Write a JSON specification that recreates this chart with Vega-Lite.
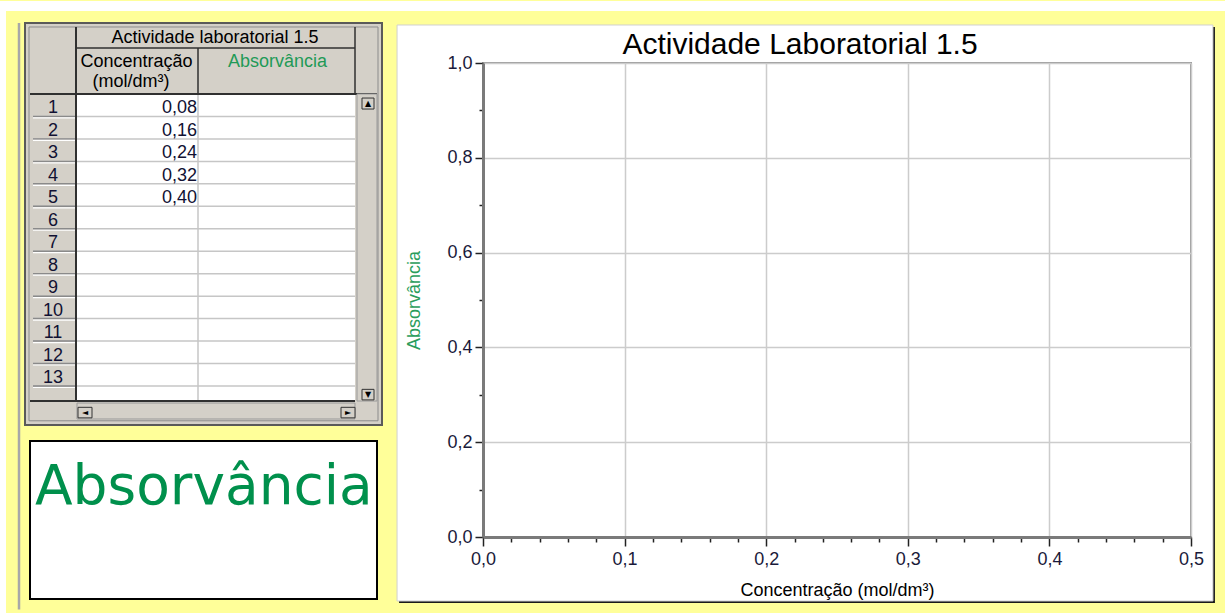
{
  "$schema": "https://vega.github.io/schema/vega-lite/v6.json",
  "background": "#ffff99",
  "padding": {"left": 0, "top": 0, "right": 0, "bottom": 0},
  "config": {
    "view": {"stroke": null},
    "font": "Liberation Sans",
    "locale": {"number": {"decimal": ",", "thousands": ".", "grouping": [3], "currency": ["", " €"]}}
  },
  "data": {"values": [
    {"linha": 1, "concentracao": 0.08, "absorvancia": null},
    {"linha": 2, "concentracao": 0.16, "absorvancia": null},
    {"linha": 3, "concentracao": 0.24, "absorvancia": null},
    {"linha": 4, "concentracao": 0.32, "absorvancia": null},
    {"linha": 5, "concentracao": 0.40, "absorvancia": null},
    {"linha": 6, "concentracao": null, "absorvancia": null},
    {"linha": 7, "concentracao": null, "absorvancia": null},
    {"linha": 8, "concentracao": null, "absorvancia": null},
    {"linha": 9, "concentracao": null, "absorvancia": null},
    {"linha": 10, "concentracao": null, "absorvancia": null},
    {"linha": 11, "concentracao": null, "absorvancia": null},
    {"linha": 12, "concentracao": null, "absorvancia": null},
    {"linha": 13, "concentracao": null, "absorvancia": null}
  ]},
  "spacing": 0,
  "hconcat": [
    {
      "width": 357,
      "height": 474,
      "view": {"stroke": null},
      "layer": [
        {"data": {"values": [{}]}, "mark": {"type": "rect", "fill": "#ffffff"},
         "encoding": {
           "x": {"datum": -25, "type": "quantitative", "scale": {"domain": [0, 357], "nice": false, "zero": false}, "axis": null},
           "x2": {"datum": 358},
           "y": {"datum": -4.141, "type": "quantitative", "scale": {"domain": [-1.38, 19.724], "reverse": true, "nice": false, "zero": false}, "axis": null},
           "y2": {"datum": -3.696}}},
        {"data": {"values": [{}]}, "mark": {"type": "rect", "fill": "#ffffff"},
         "encoding": {
           "x": {"datum": -25, "type": "quantitative", "axis": null}, "x2": {"datum": -19},
           "y": {"datum": -4.141, "type": "quantitative", "axis": null}, "y2": {"datum": 23.15}}},
        {"data": {"values": [{}]}, "mark": {"type": "rule", "color": "#a8a8a8", "strokeWidth": 2.5},
         "encoding": {
           "x": {"datum": -6, "type": "quantitative", "axis": null},
           "y": {"datum": -3.16, "type": "quantitative", "axis": null}, "y2": {"datum": 22.95}}},
        {"data": {"values": [{}]}, "mark": {"type": "rect", "fill": "#d4d0c8", "stroke": "#5a5a5a", "strokeWidth": 2},
         "encoding": {
           "x": {"datum": 0, "type": "quantitative", "axis": null},
           "x2": {"datum": 357},
           "y": {"datum": -3.161, "type": "quantitative", "axis": null},
           "y2": {"datum": 14.737}}},
        {"data": {"values": [{}]}, "mark": {"type": "rect", "fillOpacity": 0, "stroke": "#8c8c8c", "strokeWidth": 1},
         "encoding": {
           "x": {"datum": 4, "type": "quantitative", "axis": null}, "x2": {"datum": 353},
           "y": {"datum": -2.983, "type": "quantitative", "axis": null}, "y2": {"datum": 14.55}}},
        {"data": {"values": [{}]}, "mark": {"type": "rect", "fill": "#ffffff"},
         "encoding": {
           "x": {"datum": 52, "type": "quantitative", "axis": null}, "x2": {"datum": 330},
           "y": {"datum": 0, "type": "quantitative", "axis": null}, "y2": {"datum": 13.67}}},
        {"mark": {"type": "rule", "color": "#c6c6c6", "strokeWidth": 1.5},
         "encoding": {
           "x": {"datum": 8, "type": "quantitative", "axis": null}, "x2": {"datum": 330},
           "y": {"field": "linha", "type": "quantitative", "axis": null}}},
        {"mark": {"type": "rule", "color": "#8a8a8a", "strokeWidth": 1.5},
         "encoding": {
           "x": {"datum": 8, "type": "quantitative", "axis": null}, "x2": {"datum": 50},
           "y": {"field": "linha", "type": "quantitative", "axis": null}}},
        {"mark": {"type": "rule", "color": "#ffffff", "strokeWidth": 1.2, "yOffset": 1.5},
         "encoding": {
           "x": {"datum": 8, "type": "quantitative", "axis": null}, "x2": {"datum": 50},
           "y": {"field": "linha", "type": "quantitative", "axis": null}}},
        {"data": {"values": [{}]}, "mark": {"type": "rule", "color": "#303030", "strokeWidth": 2},
         "encoding": {
           "x": {"datum": 51, "type": "quantitative", "axis": null},
           "y": {"datum": -2.983, "type": "quantitative", "axis": null}, "y2": {"datum": 13.67}}},
        {"data": {"values": [{}]}, "mark": {"type": "rule", "color": "#303030", "strokeWidth": 1.5},
         "encoding": {
           "x": {"datum": 173, "type": "quantitative", "axis": null},
           "y": {"datum": -2.048, "type": "quantitative", "axis": null}, "y2": {"datum": 0}}},
        {"data": {"values": [{}]}, "mark": {"type": "rule", "color": "#c6c6c6", "strokeWidth": 1.5},
         "encoding": {
           "x": {"datum": 173, "type": "quantitative", "axis": null},
           "y": {"datum": 0, "type": "quantitative", "axis": null}, "y2": {"datum": 13.67}}},
        {"data": {"values": [{}]}, "mark": {"type": "rule", "color": "#303030", "strokeWidth": 1.5},
         "encoding": {
           "x": {"datum": 330, "type": "quantitative", "axis": null},
           "y": {"datum": -2.983, "type": "quantitative", "axis": null}, "y2": {"datum": 0}}},
        {"data": {"values": [{}]}, "mark": {"type": "rule", "color": "#303030", "strokeWidth": 1.5},
         "encoding": {
           "x": {"datum": 51, "type": "quantitative", "axis": null}, "x2": {"datum": 330},
           "y": {"datum": -2.048, "type": "quantitative", "axis": null}}},
        {"data": {"values": [{}]}, "mark": {"type": "rule", "color": "#303030", "strokeWidth": 2},
         "encoding": {
           "x": {"datum": 5, "type": "quantitative", "axis": null}, "x2": {"datum": 352},
           "y": {"datum": 0, "type": "quantitative", "axis": null}}},
        {"data": {"values": [{}]}, "mark": {"type": "rule", "color": "#303030", "strokeWidth": 2},
         "encoding": {
           "x": {"datum": 5, "type": "quantitative", "axis": null}, "x2": {"datum": 330},
           "y": {"datum": 13.67, "type": "quantitative", "axis": null}}},
        {"data": {"values": [{}]}, "mark": {"type": "rect", "fill": "#d4d0c8", "stroke": "#9a9a9a", "strokeWidth": 1},
         "encoding": {
           "x": {"datum": 332, "type": "quantitative", "axis": null}, "x2": {"datum": 352},
           "y": {"datum": 0, "type": "quantitative", "axis": null}, "y2": {"datum": 13.67}}},
        {"data": {"values": [{}]}, "mark": {"type": "rect", "fill": "#d4d0c8", "stroke": "#9a9a9a", "strokeWidth": 1},
         "encoding": {
           "x": {"datum": 52, "type": "quantitative", "axis": null}, "x2": {"datum": 330},
           "y": {"datum": 13.76, "type": "quantitative", "axis": null}, "y2": {"datum": 14.47}}},
        {"data": {"values": [{}]}, "mark": {"type": "rect", "fill": "#d4d0c8", "stroke": "#333333", "strokeWidth": 1},
         "encoding": {
           "x": {"datum": 337, "type": "quantitative", "axis": null}, "x2": {"datum": 349},
           "y": {"datum": 0.18, "type": "quantitative", "axis": null}, "y2": {"datum": 0.67}}},
        {"data": {"values": [{}]}, "mark": {"type": "rect", "fill": "#d4d0c8", "stroke": "#333333", "strokeWidth": 1},
         "encoding": {
           "x": {"datum": 337, "type": "quantitative", "axis": null}, "x2": {"datum": 349},
           "y": {"datum": 13.15, "type": "quantitative", "axis": null}, "y2": {"datum": 13.62}}},
        {"data": {"values": [{}]}, "mark": {"type": "rect", "fill": "#d4d0c8", "stroke": "#333333", "strokeWidth": 1},
         "encoding": {
           "x": {"datum": 53, "type": "quantitative", "axis": null}, "x2": {"datum": 67},
           "y": {"datum": 13.95, "type": "quantitative", "axis": null}, "y2": {"datum": 14.42}}},
        {"data": {"values": [{}]}, "mark": {"type": "rect", "fill": "#d4d0c8", "stroke": "#333333", "strokeWidth": 1},
         "encoding": {
           "x": {"datum": 316, "type": "quantitative", "axis": null}, "x2": {"datum": 330},
           "y": {"datum": 13.95, "type": "quantitative", "axis": null}, "y2": {"datum": 14.42}}},
        {"data": {"values": [{}]}, "mark": {"type": "text", "text": "▲", "font": "DejaVu Sans", "fontSize": 8, "align": "center", "baseline": "middle", "color": "#000"},
         "encoding": {"x": {"datum": 343, "type": "quantitative", "axis": null}, "y": {"datum": 0.425, "type": "quantitative", "axis": null}}},
        {"data": {"values": [{}]}, "mark": {"type": "text", "text": "▼", "font": "DejaVu Sans", "fontSize": 8, "align": "center", "baseline": "middle", "color": "#000"},
         "encoding": {"x": {"datum": 343, "type": "quantitative", "axis": null}, "y": {"datum": 13.385, "type": "quantitative", "axis": null}}},
        {"data": {"values": [{}]}, "mark": {"type": "text", "text": "◄", "font": "DejaVu Sans", "fontSize": 8, "align": "center", "baseline": "middle", "color": "#000"},
         "encoding": {"x": {"datum": 60, "type": "quantitative", "axis": null}, "y": {"datum": 14.185, "type": "quantitative", "axis": null}}},
        {"data": {"values": [{}]}, "mark": {"type": "text", "text": "►", "font": "DejaVu Sans", "fontSize": 8, "align": "center", "baseline": "middle", "color": "#000"},
         "encoding": {"x": {"datum": 323, "type": "quantitative", "axis": null}, "y": {"datum": 14.185, "type": "quantitative", "axis": null}}},
        {"data": {"values": [{}]}, "mark": {"type": "text", "text": "Actividade laboratorial 1.5", "font": "Liberation Sans", "fontSize": 18, "align": "center", "baseline": "middle", "color": "#000"},
         "encoding": {"x": {"datum": 190, "type": "quantitative", "axis": null}, "y": {"datum": -2.515, "type": "quantitative", "axis": null}}},
        {"data": {"values": [{}]}, "mark": {"type": "text", "text": "Concentração", "font": "Liberation Sans", "fontSize": 18, "align": "center", "baseline": "middle", "color": "#000"},
         "encoding": {"x": {"datum": 111.5, "type": "quantitative", "axis": null}, "y": {"datum": -1.44, "type": "quantitative", "axis": null}}},
        {"data": {"values": [{}]}, "mark": {"type": "text", "text": "(mol/dm³)", "font": "Liberation Sans", "fontSize": 18, "align": "center", "baseline": "middle", "color": "#000"},
         "encoding": {"x": {"datum": 106, "type": "quantitative", "axis": null}, "y": {"datum": -0.55, "type": "quantitative", "axis": null}}},
        {"data": {"values": [{}]}, "mark": {"type": "text", "text": "Absorvância", "font": "Liberation Sans", "fontSize": 18, "align": "center", "baseline": "middle", "color": "#1f9a57"},
         "encoding": {"x": {"datum": 252.5, "type": "quantitative", "axis": null}, "y": {"datum": -1.44, "type": "quantitative", "axis": null}}},
        {"mark": {"type": "text", "font": "Liberation Sans", "fontSize": 18, "align": "center", "baseline": "alphabetic", "dy": -3, "color": "#111133"},
         "encoding": {
           "text": {"field": "linha", "type": "quantitative"},
           "x": {"datum": 28, "type": "quantitative", "axis": null},
           "y": {"field": "linha", "type": "quantitative", "axis": null}}},
        {"transform": [{"filter": "isValid(datum.concentracao)"}],
         "mark": {"type": "text", "font": "Liberation Sans", "fontSize": 18, "align": "right", "baseline": "alphabetic", "dy": -3, "dx": -1, "color": "#111133"},
         "encoding": {
           "text": {"field": "concentracao", "type": "quantitative", "format": ".2f"},
           "x": {"datum": 173, "type": "quantitative", "axis": null},
           "y": {"field": "linha", "type": "quantitative", "axis": null}}},
        {"data": {"values": [{}]}, "mark": {"type": "rect", "fill": "#ffffff", "stroke": "#000000", "strokeWidth": 2},
         "encoding": {
           "x": {"datum": 5, "type": "quantitative", "axis": null}, "x2": {"datum": 352},
           "y": {"datum": 15.45, "type": "quantitative", "axis": null}, "y2": {"datum": 22.48}}},
        {"data": {"values": [{}]}, "mark": {"type": "text", "text": "Absorvância", "font": "DejaVu Sans", "fontSize": 55, "align": "left", "baseline": "alphabetic", "color": "#00904c"},
         "encoding": {"x": {"datum": 10, "type": "quantitative", "axis": null}, "y": {"datum": 18.254, "type": "quantitative", "axis": null}}}
      ]
    },
    {
      "width": 708,
      "height": 474,
      "view": {"stroke": null},
      "title": {"text": "Actividade Laboratorial 1.5", "font": "Liberation Sans", "fontSize": 30, "fontWeight": "normal", "color": "#000000", "anchor": "middle", "frame": "group", "dx": -37, "dy": 51.5, "baseline": "alphabetic", "offset": -31.5},
      "resolve": {"axis": {"x": "independent", "y": "independent"}},
      "layer": [
        {"data": {"values": [{}]},
         "mark": {"type": "rect", "fill": "#ffffff"},
         "encoding": {
           "x": {"datum": -0.07062, "type": "quantitative", "scale": {"domain": [0, 0.5], "nice": false, "zero": false}, "axis": null},
           "x2": {"datum": 0.52401},
           "y": {"datum": 1.1308, "type": "quantitative", "scale": {"domain": [0, 1], "nice": false, "zero": false}, "axis": null},
           "y2": {"datum": 1.1097}}},
        {"data": {"values": [{}]},
         "mark": {"type": "rect", "fill": "#1a1a1a", "xOffset": 2, "x2Offset": 2, "yOffset": 2, "y2Offset": 2},
         "encoding": {
           "x": {"datum": -0.0607, "type": "quantitative", "axis": null},
           "x2": {"datum": 0.5155},
           "y": {"datum": 1.0802, "type": "quantitative", "axis": null},
           "y2": {"datum": -0.135}}},
        {"data": {"values": [{}]},
         "mark": {"type": "rect", "fill": "#ffffff", "stroke": "#d0d0d0", "strokeWidth": 1},
         "encoding": {
           "x": {"datum": -0.0607, "type": "quantitative", "axis": null},
           "x2": {"datum": 0.5155},
           "y": {"datum": 1.0802, "type": "quantitative", "axis": null},
           "y2": {"datum": -0.135}}},
        {"data": {"values": [{}]},
         "mark": {"type": "rect", "fillOpacity": 0, "stroke": "#9a9a9a", "strokeWidth": 2},
         "encoding": {
           "x": {"datum": 0, "type": "quantitative",
                 "axis": {"orient": "bottom", "values": [0.02,0.04,0.06,0.08,0.12,0.14,0.16,0.18,0.22,0.24,0.26,0.28,0.32,0.34,0.36,0.38,0.42,0.44,0.46,0.48],
                          "labels": false, "domain": false, "grid": false, "ticks": true, "tickSize": 5, "tickColor": "#222222", "tickWidth": 1.5, "title": null, "zindex": 1}},
           "x2": {"datum": 0.5},
           "y": {"datum": 0, "type": "quantitative",
                 "axis": {"orient": "left", "values": [0.1,0.3,0.5,0.7,0.9],
                          "labels": false, "domain": false, "grid": false, "ticks": true, "tickSize": 4, "tickColor": "#222222", "tickWidth": 1.5, "title": null, "zindex": 1}},
           "y2": {"datum": 1}}},
        {"mark": {"type": "point", "filled": true, "color": "#1f9a57", "size": 60},
         "encoding": {
           "x": {"field": "concentracao", "type": "quantitative",
                 "scale": {"domain": [0, 0.5], "nice": false, "zero": false},
                 "axis": {
                   "orient": "bottom",
                   "values": [0, 0.1, 0.2, 0.3, 0.4, 0.5],
                   "format": ".1f",
                   "tickSize": 9,
                   "grid": true, "gridColor": "#cccccc", "gridWidth": 1.5,
                   "domainColor": "#7a7a7a", "domainWidth": 3,
                   "tickColor": "#222222", "tickWidth": 1.5,
                   "labelFont": "Liberation Sans", "labelFontSize": 18, "labelColor": "#1a1a3a", "labelPadding": 4,
                   "labelOverlap": false, "labelFlush": false,
                   "title": "Concentração (mol/dm³)", "titleFont": "Liberation Sans", "titleFontSize": 18, "titleFontWeight": "normal", "titleColor": "#000000", "titlePadding": 13,
                   "zindex": 1
                 }},
           "y": {"field": "absorvancia", "type": "quantitative",
                 "scale": {"domain": [0, 1], "nice": false, "zero": false},
                 "axis": {
                   "orient": "left",
                   "values": [0, 0.2, 0.4, 0.6, 0.8, 1],
                   "format": ".1f",
                   "tickSize": 8,
                   "grid": true, "gridColor": "#cccccc", "gridWidth": 1.5,
                   "domainColor": "#7a7a7a", "domainWidth": 3,
                   "tickColor": "#222222", "tickWidth": 1.5,
                   "labelFont": "Liberation Sans", "labelFontSize": 18, "labelColor": "#1a1a3a", "labelPadding": 3,
                   "labelOverlap": false, "labelFlush": false,
                   "title": "Absorvância", "titleFont": "Liberation Sans", "titleFontSize": 18, "titleFontWeight": "normal", "titleColor": "#2a9d5c", "titlePadding": 23,
                   "zindex": 1
                 }}
         }}
      ]
    }
  ]
}
